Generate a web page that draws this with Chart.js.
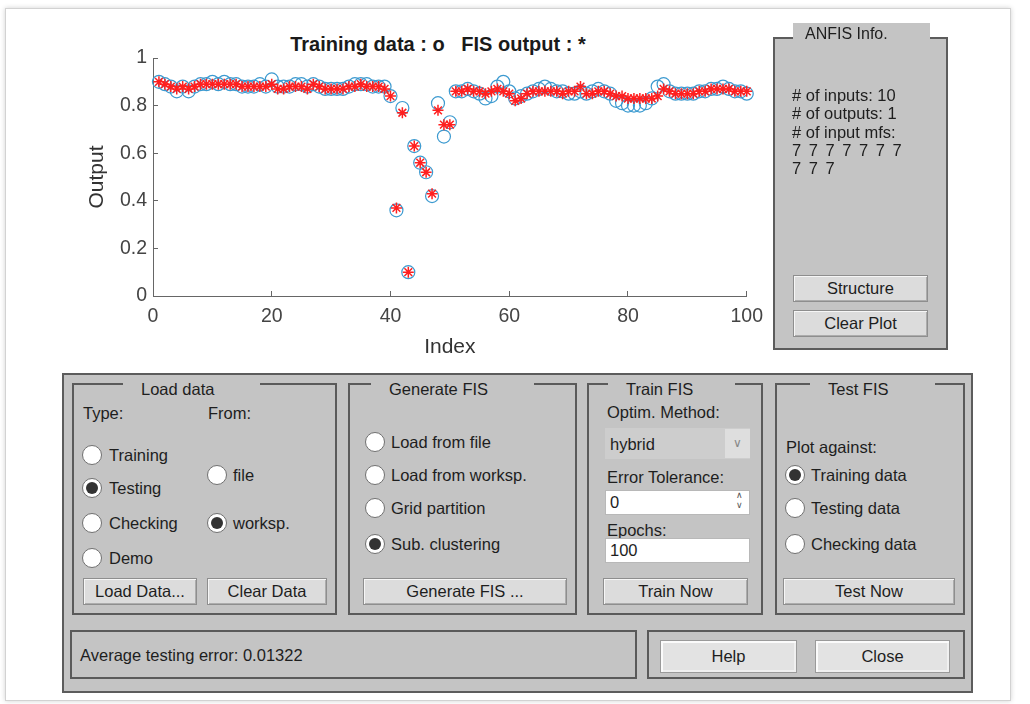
<!DOCTYPE html>
<html>
<head>
<meta charset="utf-8">
<title>ANFIS</title>
<script src="https://cdn.jsdelivr.net/npm/chart.js"></script>
<style>
body { margin: 0; background: #fff; font-family: "Liberation Sans", Arial, sans-serif; color: #1e1e1e; }
#fig { position: absolute; left: 5px; top: 8px; width: 1004px; height: 691px; border: 1px solid #d2d2d2; box-shadow: 0 0 5px rgba(0,0,0,.18); background: #fff; }
.a { position: absolute; white-space: nowrap; }
.t { position: absolute; white-space: nowrap; font-size: 16.5px; line-height: 20px; height: 20px; }
.panel { position: absolute; background: #c4c4c4; border: 2px solid #5c5c5c; box-sizing: border-box; }
.grp { position: absolute; border: 2px solid #5a5a5a; box-sizing: border-box; }
.gt { position: absolute; background: #c4c4c4; font-size: 16.5px; line-height: 20px; height: 20px; padding: 0 46px 0 18px; }
.btn { position: absolute; box-sizing: border-box; background: #dcdcdc; border: 1px solid #8e8e8e;
       box-shadow: inset 1px 1px 0 #f6f6f6, inset -1px -1px 0 #acacac; font-size: 16.5px; text-align: center; }
.big { position: absolute; box-sizing: border-box; background: #e3e3e3; border: 1px solid #9a9a9a;
       box-shadow: inset 2px 2px 0 #fbfbfb, inset -2px -2px 0 #f0f0f0; font-size: 16.5px; text-align: center; }
.rb { position: absolute; width: 20px; height: 20px; margin: -10px 0 0 -10px; border-radius: 50%; background: #fff; border: 1px solid #707070; box-sizing: border-box; }
.rb.on::after { content: ''; position: absolute; left: 3px; top: 3px; width: 12px; height: 12px; border-radius: 50%; background: #333; }
.edit { position: absolute; box-sizing: border-box; background: #fff; border: 1px solid #b8b8b8; font-size: 16.5px; line-height: 23px; padding-left: 4px; }
</style>
</head>
<body>
<div id="fig"></div>

<!-- plot -->
<div class="a" style="left:0;width:876px;top:32px;line-height:24px;text-align:center;font-size:20px;font-weight:bold;color:#1a1a1a;">Training data : o&nbsp;&nbsp; FIS output : *</div>
<canvas id="chartPlot" width="717" height="345" style="position:absolute;left:60px;top:20px;"></canvas>

<!-- ANFIS info -->
<div class="panel" style="left:773px;top:37px;width:175px;height:313px;"></div>
<div class="a" style="left:793px;top:23px;width:137px;height:17px;background:#c4c4c4;"></div>
<div class="t" style="left:805px;top:24px;font-size:16px;">ANFIS Info.</div>
<div class="t" style="left:792px;top:85px;">#&nbsp;of inputs: 10</div>
<div class="t" style="left:792px;top:103px;"># of outputs: 1</div>
<div class="t" style="left:792px;top:122px;"># of input mfs:</div>
<div class="t" style="left:792px;top:140px;word-spacing:3px;">7 7 7 7 7 7 7</div>
<div class="t" style="left:792px;top:158px;word-spacing:3px;">7 7 7</div>
<div class="btn" style="left:793px;top:275px;width:135px;height:27px;line-height:25px;">Structure</div>
<div class="btn" style="left:793px;top:310px;width:135px;height:27px;line-height:25px;">Clear Plot</div>

<!-- bottom panel -->
<div class="panel" style="left:62px;top:373px;width:911px;height:320px;"></div>

<!-- Load data -->
<div class="grp" style="left:72px;top:383px;width:265px;height:232px;"></div>
<div class="gt" style="left:123px;top:379px;">Load data</div>
<div class="t" style="left:83px;top:403px;">Type:</div>
<div class="t" style="left:208px;top:403px;">From:</div>
<div class="rb" style="left:92px;top:455px;"></div><div class="t" style="left:109px;top:445px;">Training</div>
<div class="rb on" style="left:92px;top:488px;"></div><div class="t" style="left:109px;top:478px;">Testing</div>
<div class="rb" style="left:92px;top:523px;"></div><div class="t" style="left:109px;top:513px;">Checking</div>
<div class="rb" style="left:92px;top:558px;"></div><div class="t" style="left:109px;top:548px;">Demo</div>
<div class="rb" style="left:217px;top:475px;"></div><div class="t" style="left:233px;top:465px;">file</div>
<div class="rb on" style="left:217px;top:523px;"></div><div class="t" style="left:233px;top:513px;">worksp.</div>
<div class="btn" style="left:83px;top:578px;width:114px;height:27px;line-height:25px;">Load Data...</div>
<div class="btn" style="left:207px;top:578px;width:120px;height:27px;line-height:25px;">Clear Data</div>

<!-- Generate FIS -->
<div class="grp" style="left:348px;top:383px;width:229px;height:232px;"></div>
<div class="gt" style="left:371px;top:379px;">Generate FIS</div>
<div class="rb" style="left:375px;top:442px;"></div><div class="t" style="left:391px;top:432px;">Load from file</div>
<div class="rb" style="left:375px;top:475px;"></div><div class="t" style="left:391px;top:465px;">Load from worksp.</div>
<div class="rb" style="left:375px;top:508px;"></div><div class="t" style="left:391px;top:498px;">Grid partition</div>
<div class="rb on" style="left:375px;top:544px;"></div><div class="t" style="left:391px;top:534px;">Sub. clustering</div>
<div class="btn" style="left:363px;top:578px;width:204px;height:27px;line-height:25px;">Generate FIS ...</div>

<!-- Train FIS -->
<div class="grp" style="left:587px;top:383px;width:176px;height:232px;"></div>
<div class="gt" style="left:608px;top:379px;padding-right:42px;">Train FIS</div>
<div class="t" style="left:607px;top:402px;">Optim. Method:</div>
<div class="a" style="left:605px;top:428px;width:145px;height:31px;background:#cdcdcd;"></div>
<div class="a" style="left:725px;top:429px;width:25px;height:29px;background:#dedede;color:#888;font-size:12px;line-height:29px;text-align:center;">&#8744;</div>
<div class="t" style="left:610px;top:434px;">hybrid</div>
<div class="t" style="left:607px;top:467px;">Error Tolerance:</div>
<div class="edit" style="left:605px;top:490px;width:145px;height:25px;">0</div>
<div class="a" style="left:736px;top:490px;font-size:9px;line-height:10px;color:#555;text-align:center;">&#8743;<br>&#8744;</div>
<div class="t" style="left:607px;top:520px;">Epochs:</div>
<div class="edit" style="left:605px;top:538px;width:145px;height:25px;">100</div>
<div class="btn" style="left:603px;top:578px;width:145px;height:27px;line-height:25px;">Train Now</div>

<!-- Test FIS -->
<div class="grp" style="left:775px;top:383px;width:190px;height:232px;"></div>
<div class="gt" style="left:810px;top:379px;">Test FIS</div>
<div class="t" style="left:786px;top:437px;">Plot against:</div>
<div class="rb on" style="left:795px;top:475px;"></div><div class="t" style="left:811px;top:465px;">Training data</div>
<div class="rb" style="left:795px;top:508px;"></div><div class="t" style="left:811px;top:498px;">Testing data</div>
<div class="rb" style="left:795px;top:544px;"></div><div class="t" style="left:811px;top:534px;">Checking data</div>
<div class="btn" style="left:783px;top:578px;width:172px;height:27px;line-height:25px;">Test Now</div>

<!-- status + help/close -->
<div class="grp" style="left:70px;top:630px;width:567px;height:49px;"></div>
<div class="t" style="left:80px;top:645px;">Average testing error: 0.01322</div>
<div class="grp" style="left:647px;top:630px;width:318px;height:49px;"></div>
<div class="big" style="left:660px;top:640px;width:137px;height:33px;line-height:31px;">Help</div>
<div class="big" style="left:815px;top:640px;width:135px;height:33px;line-height:31px;">Close</div>

<script>
// ANFIS training data (circles) and FIS output (stars), index 1..100
var trainingData = [
    0.90, 0.89, 0.88, 0.86, 0.88, 0.86, 0.88, 0.89, 0.89, 0.90,
    0.89, 0.90, 0.89, 0.89, 0.88, 0.88, 0.88, 0.89, 0.88, 0.91,
    0.88, 0.88, 0.88, 0.89, 0.89, 0.88, 0.89, 0.88, 0.87, 0.87,
    0.87, 0.87, 0.88, 0.89, 0.89, 0.89, 0.88, 0.88, 0.88, 0.84,
    0.36, 0.79, 0.10, 0.63, 0.56, 0.52, 0.42, 0.81, 0.67, 0.73,
    0.86, 0.86, 0.87, 0.86, 0.85, 0.83, 0.84, 0.88, 0.90, 0.86,
    0.83, 0.84, 0.85, 0.86, 0.87, 0.88, 0.87, 0.86, 0.86, 0.85,
    0.85, 0.86, 0.85, 0.86, 0.87, 0.86, 0.85, 0.82, 0.81, 0.80,
    0.80, 0.80, 0.81, 0.83, 0.88, 0.89, 0.86, 0.85, 0.85, 0.85,
    0.85, 0.86, 0.86, 0.87, 0.87, 0.88, 0.87, 0.86, 0.86, 0.85
];
var fisOutput = [
    0.90, 0.89, 0.88, 0.87, 0.88, 0.87, 0.88, 0.89, 0.89, 0.89,
    0.89, 0.89, 0.89, 0.89, 0.88, 0.88, 0.88, 0.88, 0.88, 0.89,
    0.87, 0.87, 0.88, 0.88, 0.88, 0.87, 0.89, 0.88, 0.87, 0.87,
    0.87, 0.87, 0.88, 0.88, 0.89, 0.88, 0.88, 0.88, 0.87, 0.84,
    0.37, 0.77, 0.10, 0.63, 0.56, 0.52, 0.43, 0.78, 0.72, 0.72,
    0.86, 0.86, 0.87, 0.86, 0.86, 0.85, 0.86, 0.87, 0.86, 0.85,
    0.82, 0.83, 0.85, 0.86, 0.86, 0.86, 0.86, 0.86, 0.85, 0.86,
    0.86, 0.88, 0.85, 0.85, 0.86, 0.86, 0.85, 0.84, 0.84, 0.83,
    0.83, 0.83, 0.83, 0.83, 0.84, 0.87, 0.86, 0.85, 0.85, 0.85,
    0.85, 0.86, 0.86, 0.87, 0.87, 0.87, 0.87, 0.86, 0.86, 0.86
];
var xTicks = [0, 20, 40, 60, 80, 100];
var yTicks = [0, 0.2, 0.4, 0.6, 0.8, 1];

var fontFam = '"Liberation Sans", Arial, sans-serif';

function toPoints(values) {
    return values.map(function (v, i) { return { x: i + 1, y: v }; });
}

var plotData = {
    datasets: [
        {
            label: 'FIS output',
            data: toPoints(fisOutput),
            pointStyle: 'star',
            pointRadius: 5.5,
            borderColor: '#ff1f1f',
            backgroundColor: '#ff1f1f',
            borderWidth: 1.5,
            clip: false,
            order: 0
        },
        {
            label: 'Training data',
            data: toPoints(trainingData),
            pointStyle: 'circle',
            pointRadius: 6.5,
            borderColor: '#3c9ad0',
            backgroundColor: 'rgba(0,0,0,0)',
            borderWidth: 1.2,
            clip: false,
            order: 1
        }
    ]
};

var plotOptions = {
    responsive: false,
    animation: false,
    events: [],
    layout: { padding: { left: 21, right: 20, top: 38, bottom: 1 } },
    plugins: { legend: { display: false }, tooltip: { enabled: false } },
    scales: {
        x: {
            type: 'linear', min: 0, max: 100,
            afterBuildTicks: function (s) { s.ticks = xTicks.map(function (v) { return { value: v }; }); },
            afterFit: function (s) { s.height = 68; },
            grid: { drawOnChartArea: false, tickLength: -5, color: '#666' },
            border: { color: '#666', width: 1 },
            ticks: { padding: 14, color: '#444', font: { size: 19.5, family: fontFam },
                     callback: function (v) { return String(v); } },
            title: { display: true, text: 'Index', color: '#333', font: { size: 21, family: fontFam } }
        },
        y: {
            type: 'linear', min: 0, max: 1,
            afterBuildTicks: function (s) { s.ticks = yTicks.map(function (v) { return { value: v }; }); },
            afterFit: function (s) { s.width = 72; },
            grid: { drawOnChartArea: false, tickLength: -5, color: '#666' },
            border: { color: '#666', width: 1 },
            ticks: { padding: 11, color: '#444', font: { size: 19.5, family: fontFam },
                     callback: function (v) { return String(v); } },
            title: { display: true, text: 'Output', color: '#333', font: { size: 21, family: fontFam } }
        }
    }
};

var chartPlot = new Chart(document.getElementById('chartPlot'), { type: 'scatter', data: plotData, options: plotOptions });
</script>
</body>
</html>
